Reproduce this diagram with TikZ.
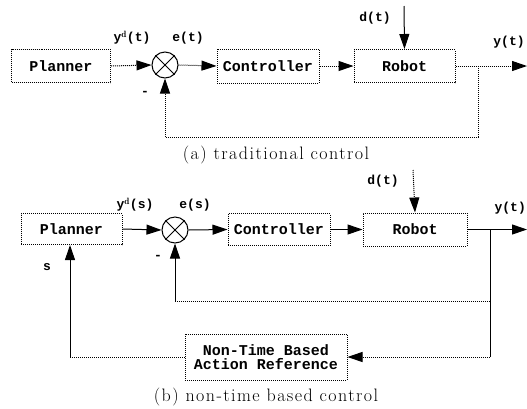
\documentclass[tikz,border=0pt]{standalone}
\usepackage{fontspec}
\newfontfamily\monof{Liberation Mono}
\newfontfamily\capfont[LetterSpace=8]{Latin Modern Roman}
\usetikzlibrary{arrows.meta,calc}
\begin{document}
\begin{tikzpicture}[x=1pt,y=-1pt,
  blk/.style={draw,line width=1pt,densely dotted,inner sep=0pt,align=center,
    font=\monof\bfseries\fontsize{15}{14}\selectfont},
  sumj/.style={draw,circle,line width=1pt,minimum size=26pt,inner sep=0pt},
  con/.style={line width=1pt},
  dcon/.style={line width=1pt,densely dotted},
  arr/.style={-{Triangle[length=15pt,width=10pt]}},
  lbl/.style={font=\monof\bfseries\fontsize{13}{13}\selectfont,inner sep=0pt},
  captxt/.style={font=\capfont\fontsize{18}{19}\selectfont,inner sep=0pt}]
\useasboundingbox (0,0) rectangle (527,408);

% ---------- (a) traditional control ----------
\node[blk,minimum width=99pt,minimum height=33pt] (pa) at (61,66) {Planner};
\node[sumj] (sa) at (165,65) {};
\draw[con] (sa.north west) -- (sa.south east) (sa.north east) -- (sa.south west);
\node[blk,minimum width=102pt,minimum height=34pt] (ca) at (268,66) {Controller};
\node[blk,minimum width=101pt,minimum height=33pt] (ra) at (404.5,66) {Robot};
\coordinate (da) at (404,6);
\coordinate (ya) at (527,66);
\coordinate (ba) at (478,66);
\coordinate (fa) at (478,137);
\coordinate (ga) at (165,137);

\draw[dcon,arr] (pa.east) -- (sa.west);
\draw[dcon,arr] (sa.east) -- (ca.west);
\draw[dcon,arr] (ca.east) -- (ra.west);
\draw[con,arr] (da) -- (ra.north);
\draw[dcon,arr] (ra.east) -- (ya);
\draw[dcon] (ba) -- (fa) -- (ga);
\draw[dcon,arr] (ga) -- (sa.south);

\node[lbl] (lyda) at (132,38) {y$^{\mathbf d}$(t)};
\node[lbl] (lea) at (188,38) {e(t)};
\node[lbl] (lda) at (375,18) {d(t)};
\node[lbl] (lya) at (509,42) {y(t)};
\node[lbl] (lma) at (145,93) {-};
\node[captxt] (capa) at (276,155) {(a) traditional control};

% ---------- (b) non-time based control ----------
\node[blk,minimum width=101pt,minimum height=31pt] (pb) at (71.5,229) {Planner};
\node[sumj] (sb) at (175,230) {};
\draw[con] (sb.north west) -- (sb.south east) (sb.north east) -- (sb.south west);
\node[blk,minimum width=102pt,minimum height=32pt] (cb) at (279,229.5) {Controller};
\node[blk,minimum width=104pt,minimum height=33pt] (rb) at (415,229.5) {Robot};
\node[blk,minimum width=162pt,minimum height=46pt] (nb) at (266,357)
  {Non-Time Based\\Action Reference};
\coordinate (db) at (413,170);
\coordinate (yb) at (527,229.5);
\coordinate (bb) at (490,229.5);
\coordinate (ib) at (490,301);
\coordinate (jb) at (175,301);
\coordinate (ob) at (490,357);
\coordinate (kb) at (70,357);

\draw[con,arr] (pb.east) -- (sb.west);
\draw[con,arr] (sb.east) -- (cb.west);
\draw[con,arr] (cb.east) -- (rb.west);
\draw[dcon,arr] (db) -- (rb.north);
\draw[con,arr] (rb.east) -- (yb);
\draw[con] (bb) -- (ob);
\draw[dcon] (ib) -- (jb);
\draw[con,arr] (jb) -- (sb.south);
\draw[dcon,arr] (ob) -- (nb.east);
\draw[dcon] (nb.west) -- (kb);
\draw[con,arr] (kb) -- (pb.south -| kb);

\node[lbl] (lydb) at (135,205) {y$^{\mathbf d}$(s)};
\node[lbl] (leb) at (195,205) {e(s)};
\node[lbl] (ldb) at (383,181) {d(t)};
\node[lbl,anchor=east] (lyb) at (526,208) {y(t)};
\node[lbl] (lmb) at (158,257) {-};
\node[lbl] (lsb) at (47,267) {s};
\node[captxt] (capb) at (266,397) {(b) non-time based control};
\end{tikzpicture}
\end{document}
